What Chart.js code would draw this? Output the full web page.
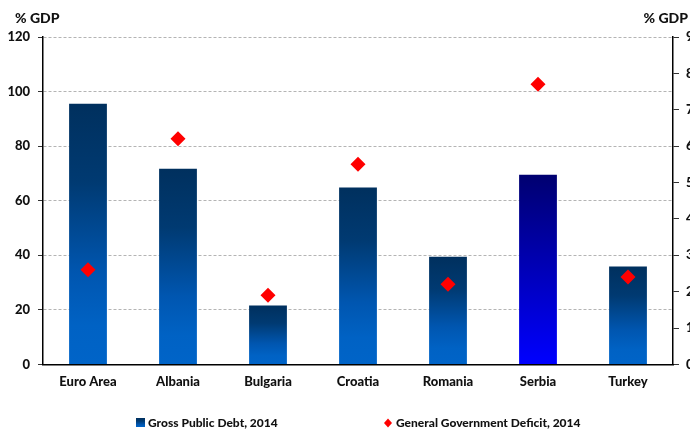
<!DOCTYPE html>
<html>
<head>
<meta charset="utf-8">
<script src="https://cdn.jsdelivr.net/npm/chart.js@4/dist/chart.umd.min.js"></script>
<style>
  html, body { margin: 0; padding: 0; background: #fff; }
  #wrap { width: 690px; height: 431px; }
</style>
</head>
<body>
<div id="wrap"><canvas id="debtChart" width="690" height="431"></canvas></div>
<script>
// dati
var categories = ['Euro Area', 'Albania', 'Bulgaria', 'Croatia', 'Romania', 'Serbia', 'Turkey'];
var debt = [95.5, 71.7, 21.6, 64.8, 39.5, 69.5, 35.9];
var deficit = [2.6, 6.2, 1.9, 5.5, 2.2, 7.7, 2.4];
var debtLabel = 'Gross Public Debt, 2014';
var deficitLabel = 'General Government Deficit, 2014';
var axisTitle = '% GDP';
var leftMax = 120, leftStep = 20;
var rightMax = 9, rightStep = 1;

var FONT = 'Lato, "Liberation Sans", Arial, sans-serif';
var serbiaIndex = categories.indexOf('Serbia');

// gradiente verticale per ogni barra
function barGradient(ctx, top, bottom, highlight) {
  var g = ctx.createLinearGradient(0, top, 0, bottom);
  if (highlight) {
    g.addColorStop(0, '#000070');
    g.addColorStop(0.5, '#0000b8');
    g.addColorStop(1, '#0000ff');
  } else {
    g.addColorStop(0, '#00305e');
    g.addColorStop(0.3, '#003a72');
    g.addColorStop(0.65, '#0056b0');
    g.addColorStop(0.85, '#0062c4');
    g.addColorStop(1, '#0064c8');
  }
  return g;
}

function debtColor(c) {
  var chart = c.chart;
  var y = chart.scales.y;
  if (!y || c.type !== 'data') {
    return '#0050a0';
  }
  var top = y.getPixelForValue(c.raw);
  var base = y.getPixelForValue(0);
  if (!isFinite(top) || !isFinite(base) || top === base) {
    return '#0050a0';
  }
  return barGradient(chart.ctx, top, base, c.dataIndex === serbiaIndex);
}

// titoli "% GDP" e legenda disegnati a mano
var extrasPlugin = {
  id: 'extras',
  afterDraw: function (chart) {
    var ctx = chart.ctx;
    var area = chart.chartArea;
    ctx.save();
    ctx.fillStyle = '#111';
    ctx.textBaseline = 'middle';
    ctx.font = '900 14px ' + FONT;
    ctx.textAlign = 'left';
    ctx.fillText(axisTitle, 15, 18);
    ctx.textAlign = 'right';
    ctx.fillText(axisTitle, 688, 18);

    // legenda
    var ly = 423;
    var x1 = area.left + 93;
    ctx.fillStyle = barGradient(ctx, ly - 5, ly + 5, false);
    ctx.fillRect(x1, ly - 5, 9, 9);
    ctx.fillStyle = '#111';
    ctx.font = '900 12px ' + FONT;
    ctx.textAlign = 'left';
    ctx.fillText(chart.data.datasets[0].label, x1 + 12, ly);

    var x2 = area.left + 345;
    ctx.fillStyle = '#ff0000';
    ctx.beginPath();
    ctx.moveTo(x2, ly - 4.5);
    ctx.lineTo(x2 + 4, ly);
    ctx.lineTo(x2, ly + 4.5);
    ctx.lineTo(x2 - 4, ly);
    ctx.closePath();
    ctx.fill();
    ctx.fillStyle = '#111';
    ctx.fillText(chart.data.datasets[1].label, x2 + 8, ly);
    ctx.restore();
  }
};

var chart = new Chart(document.getElementById('debtChart'), {
  type: 'bar',
  data: {
    labels: categories,
    datasets: [{
      label: debtLabel,
      data: debt,
      yAxisID: 'y',
      backgroundColor: debtColor,
      borderWidth: 0,
      barPercentage: 0.42,
      categoryPercentage: 1,
      order: 2
    }, {
      type: 'line',
      label: deficitLabel,
      data: deficit,
      yAxisID: 'y1',
      showLine: false,
      pointStyle: 'rectRot',
      pointRadius: 7.5,
      pointHoverRadius: 7.5,
      pointBackgroundColor: '#ff0000',
      pointBorderWidth: 0,
      order: 1
    }]
  },
  options: {
    responsive: false,
    animation: false,
    layout: { padding: { top: 37, bottom: 31, left: 0, right: 0 } },
    plugins: {
      legend: { display: false },
      tooltip: { enabled: false }
    },
    scales: {
      x: {
        grid: { display: false, drawTicks: false },
        border: { color: '#000', width: 1.5 },
        ticks: {
          padding: 10,
          color: '#111',
          font: { family: FONT, size: 13, weight: '900' }
        }
      },
      y: {
        position: 'left',
        min: 0,
        max: leftMax,
        afterFit: function (scale) { scale.width = 43; },
        ticks: {
          stepSize: leftStep,
          padding: 8,
          color: '#111',
          font: { family: FONT, size: 13, weight: '900' }
        },
        grid: {
          color: '#b4b4b4',
          lineWidth: 1,
          tickLength: 5,
          tickColor: '#333',
          tickBorderDash: []
        },
        border: { color: '#000', width: 1.5, dash: [3, 2] }
      },
      y1: {
        position: 'right',
        min: 0,
        max: rightMax,
        afterFit: function (scale) { scale.width = 17; },
        ticks: {
          stepSize: rightStep,
          padding: 7,
          color: '#111',
          font: { family: FONT, size: 13, weight: '900' }
        },
        grid: {
          drawOnChartArea: false,
          tickLength: 6,
          tickColor: '#333'
        },
        border: { color: '#000', width: 1.5 }
      }
    }
  },
  plugins: [extrasPlugin]
});
</script>
</body>
</html>
